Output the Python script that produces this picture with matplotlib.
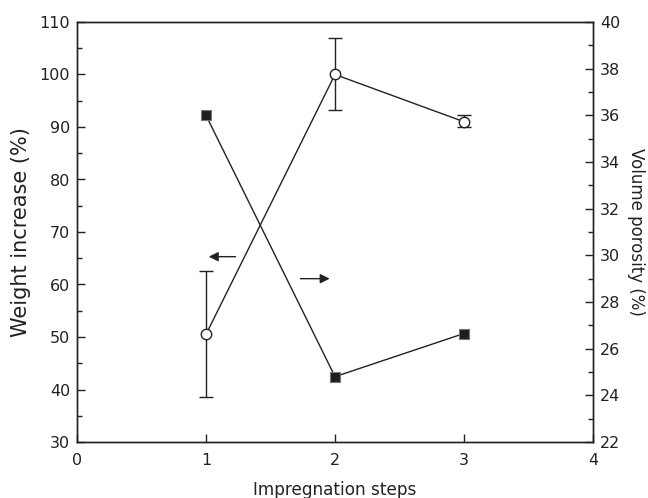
import matplotlib
matplotlib.use("Agg")
import matplotlib.pyplot as plt
from matplotlib.ticker import MultipleLocator

steps = [1, 2, 3]
weight_increase = [50.5, 100.0, 91.0]
weight_err_low = [12.0, 6.8, 1.0]
weight_err_high = [12.0, 7.0, 1.3]
volume_porosity = [36.0, 24.8, 26.65]

fig = plt.figure(figsize=(6.48, 4.98), dpi=100)
ax = fig.add_axes([77/648, 1-442/498, (593-77)/648, (442-22)/498])
ax2 = ax.twinx()

lc = "#222222"
ax.errorbar(steps, weight_increase, yerr=[weight_err_low, weight_err_high],
            color=lc, lw=1.0, marker='o', ms=7.5, mfc='white', mec=lc, mew=1.0,
            capsize=5, elinewidth=1.0, capthick=1.0, zorder=3)
ax2.plot(steps, volume_porosity, color=lc, lw=1.0, marker='s', ms=6.5,
         mfc='#1e1e1e', mec='#777777', mew=0.8, zorder=3)

ax.set_xlim(0, 4)
ax.set_ylim(30, 110)
ax2.set_ylim(22, 40)
ax.xaxis.set_major_locator(MultipleLocator(1))
ax.yaxis.set_major_locator(MultipleLocator(10))
ax.yaxis.set_minor_locator(MultipleLocator(5))
ax2.yaxis.set_major_locator(MultipleLocator(2))
ax2.yaxis.set_minor_locator(MultipleLocator(1))

for a in (ax, ax2):
    for s in a.spines.values():
        s.set_color(lc)
        s.set_linewidth(1.0)
ax.tick_params(axis='both', which='major', direction='in', length=6, width=1.0,
               color=lc, labelsize=11.5, labelcolor='#222222', pad=5)
ax.tick_params(axis='x', which='major', pad=8)
ax.tick_params(axis='y', which='minor', direction='in', length=3.5, width=1.0, color=lc)
ax2.tick_params(axis='y', which='major', direction='in', length=6, width=1.0,
                color=lc, labelsize=11.5, labelcolor='#222222', pad=5)
ax2.tick_params(axis='y', which='minor', direction='in', length=3.5, width=1.0, color=lc)

ax.set_xlabel("Impregnation steps", fontsize=12.2, color='#222222', labelpad=9)
ax.set_ylabel("Weight increase (%)", fontsize=15, color='#222222', labelpad=6)
ax2.set_ylabel("Volume porosity (%)", fontsize=12, color='#222222', rotation=270, labelpad=18)

ax.annotate("", xy=(1.0, 65.3), xytext=(1.25, 65.3),
            arrowprops=dict(arrowstyle='-|>', color=lc, lw=1.0, mutation_scale=14))
ax2.annotate("", xy=(1.98, 29.0), xytext=(1.71, 29.0),
             arrowprops=dict(arrowstyle='-|>', color=lc, lw=1.0, mutation_scale=14))

fig.savefig("out.png", dpi=100)
